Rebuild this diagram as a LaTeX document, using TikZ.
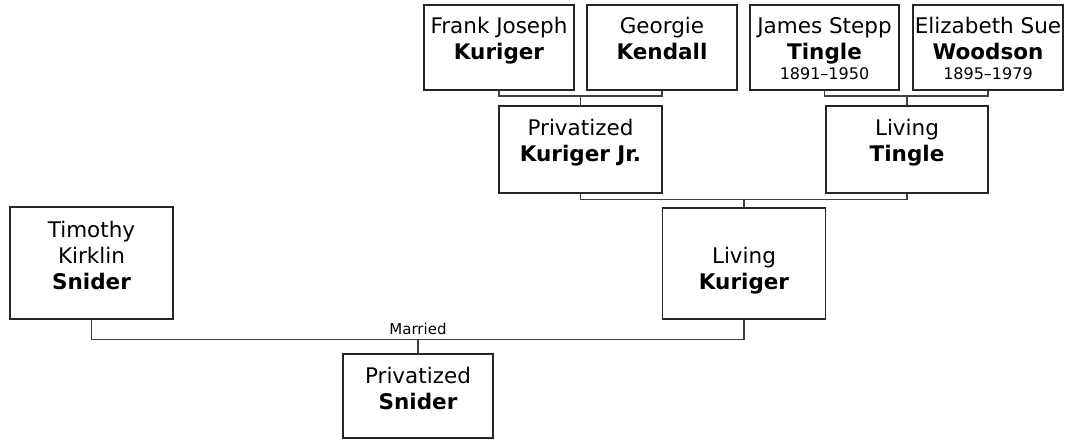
\documentclass[tikz,border=0pt]{standalone}
\usepackage{fontspec}
\setmainfont{DejaVu Sans}
\usetikzlibrary{positioning,calc}
% card content: width, height, top pad, lines
\newcommand{\pcard}[4]{\parbox[c][#2pt][t]{#1pt}{\centering\vspace*{#3pt}\strut#4}}
\newcommand{\datefont}{\fontsize{16}{20}\selectfont}
\tikzset{
  person/.style = {rectangle, draw=black!85, line width=1.4pt, inner sep=0pt,
                   fill=white, font=\fontsize{21.5}{26}\selectfont},
  link/.style   = {draw=black!75, line width=1.6pt},
  tag/.style    = {font=\fontsize{15}{18}\selectfont, inner sep=4.5pt},
}
\begin{document}
\begin{tikzpicture}[x=1pt, y=-1pt]
    \useasboundingbox (0,0) rectangle (1074,441);
    % grandparents
    \node[person] (frank)   at (499,47.5)   {\pcard{150}{85}{10}{Frank Joseph\\\textbf{Kuriger}}};
    \node[person] (georgie) at (662,47.5)   {\pcard{150}{85}{10}{Georgie\\\textbf{Kendall}}};
    \node[person] (james)   at (824.5,47.5) {\pcard{149}{85}{10}{James Stepp\\\textbf{Tingle}\\[-6pt]{\datefont 1891–1950}}};
    \node[person] (eliz)    at (988,47.5)   {\pcard{150}{85}{10}{Elizabeth Sue\\\textbf{Woodson}\\[-6pt]{\datefont 1895–1979}}};
    % parents
    \node[person] (kjr)     at (580.5,149.5) {\pcard{163}{87}{11}{Privatized\\\textbf{Kuriger Jr.}}};
    \node[person] (ltingle) at (907,149.5)   {\pcard{162}{87}{11}{Living\\\textbf{Tingle}}};
    % couple
    \node[person] (timothy)  at (91.5,263)  {\pcard{163}{112}{12}{Timothy\\Kirklin\\\textbf{Snider}}};
    \node[person] (lkuriger) at (744,263.5) {\pcard{163}{111}{37}{Living\\\textbf{Kuriger}}};
    % child
    \node[person] (psnider)  at (418,396)   {\pcard{150}{84}{11}{Privatized\\\textbf{Snider}}};

    \coordinate[above=9pt of kjr.north] (kjrtop);
    \coordinate[above=9pt of ltingle.north] (tgltop);
    \coordinate[above=8pt of lkuriger.north] (lkutop);
    \coordinate[above=14pt of psnider.north] (wed);

    \draw[link] (frank.south) |- (kjrtop) -| (georgie.south);
    \draw[link] (kjrtop) -- (kjr.north);
    \draw[link] (james.south) |- (tgltop) -| (eliz.south);
    \draw[link] (tgltop) -- (ltingle.north);
    \draw[link] (kjr.south) |- (lkutop) -| (ltingle.south);
    \draw[link] (lkutop) -- (lkuriger.north);
    \draw[link] (timothy.south) |- (wed) -| (lkuriger.south);
    \draw[link] (wed) -- (psnider.north);
    \node[tag, above] at (wed) {Married};
  \end{tikzpicture}
\end{document}
